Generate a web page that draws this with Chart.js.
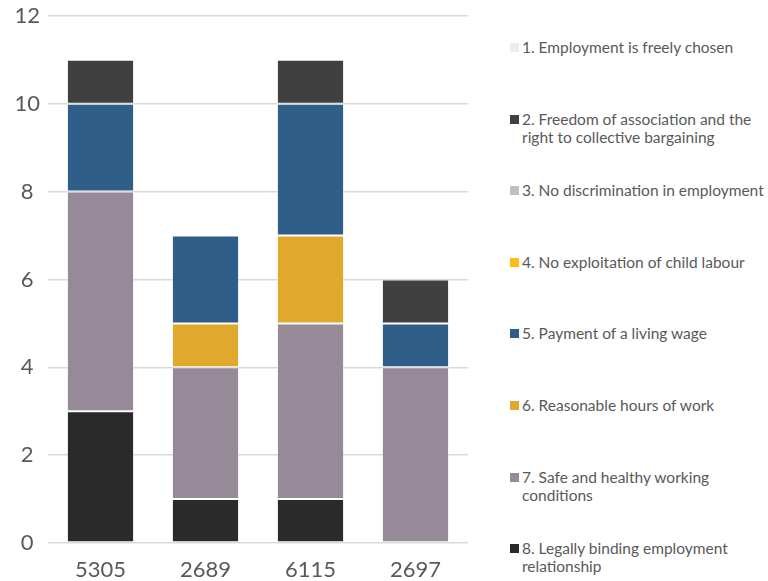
<!DOCTYPE html>
<html>
<head>
<meta charset="utf-8">
<script src="https://cdn.jsdelivr.net/npm/chart.js@4/dist/chart.umd.min.js"></script>
<style>
    body {
        margin: 0;
        background: #ffffff;
        font-family: 'Lato', sans-serif;
    }

    #wrap {
        position: relative;
        width: 768px;
        height: 581px;
        overflow: hidden;
    }

    #chart-box {
        position: absolute;
        left: 0;
        top: 0;
        width: 480px;
        height: 581px;
    }

    #legend {
        position: absolute;
        left: 510px;
        top: 0;
        width: 258px;
        height: 581px;
    }

    .legend-item {
        position: absolute;
        left: 0;
        display: flex;
        align-items: flex-start;
        font-size: 15.5px;
        line-height: 18px;
        color: #595959;
        white-space: nowrap;
    }

    .legend-box {
        width: 9px;
        height: 9px;
        margin-top: 5px;
        margin-right: 3px;
        flex: none;
    }
</style>
</head>
<body>
<div id="wrap">
    <div id="chart-box"><canvas id="principlesChart"></canvas></div>
    <div id="legend"></div>
</div>

<script>
    const categories = ['5305', '2689', '6115', '2697'];

    const principleLabels = [
        ['1. Employment is freely chosen'],
        ['2. Freedom of association and the', 'right to collective bargaining'],
        ['3. No discrimination in employment'],
        ['4. No exploitation of child labour'],
        ['5. Payment of a living wage'],
        ['6. Reasonable hours of work'],
        ['7. Safe and healthy working', 'conditions'],
        ['8. Legally binding employment', 'relationship']
    ];

    // counts per supplier, one array per principle
    const freelyChosen = [0, 0, 0, 0];
    const freedomOfAssociation = [1, 0, 1, 1];
    const noDiscrimination = [0, 0, 0, 0];
    const childLabour = [0, 0, 0, 0];
    const livingWage = [2, 2, 3, 1];
    const hoursOfWork = [0, 1, 2, 0];
    const safeConditions = [5, 3, 4, 4];
    const legallyBinding = [3, 1, 1, 0];

    const yTicks = [0, 2, 4, 6, 8, 10, 12];

    const seriesValues = [freelyChosen, freedomOfAssociation, noDiscrimination, childLabour,
        livingWage, hoursOfWork, safeConditions, legallyBinding];
    const colors = ['#ededed', '#404040', '#bfbfbf', '#fbbd14', '#2f5f89', '#e0a82d', '#968a98', '#2a2a2a'];

    // stack from principle 8 at the bottom up to principle 1
    let datasets = [];
    for (let i = seriesValues.length - 1; i >= 0; i--) {
        datasets.push({
            label: principleLabels[i].join(' '),
            data: seriesValues[i],
            backgroundColor: colors[i],
            borderColor: 'rgba(255, 255, 255, 0.3)',
            borderWidth: ctx => ctx.raw ? 1 : 0,
            borderSkipped: false,
            barPercentage: 0.64,
            categoryPercentage: 1
        });
    }

    const textColor = '#595959';
    const gridColor = '#d9d9d9';

    new Chart(document.getElementById('principlesChart').getContext('2d'), {
        type: 'bar',
        data: {
            labels: categories,
            datasets: datasets
        },
        options: {
            responsive: true,
            maintainAspectRatio: false,
            animation: false,
            layout: {
                padding: {top: 0, right: 12, left: 0, bottom: 0}
            },
            plugins: {
                legend: {display: false},
                tooltip: {enabled: false}
            },
            scales: {
                x: {
                    stacked: true,
                    grid: {display: false},
                    border: {display: false},
                    ticks: {
                        color: textColor,
                        padding: 6,
                        font: {family: 'Lato', size: 22}
                    },
                    afterFit: scale => {
                        scale.height = 38;
                    }
                },
                y: {
                    stacked: true,
                    min: 0,
                    max: 12,
                    afterBuildTicks: scale => {
                        scale.ticks = yTicks.map(v => ({value: v}));
                    },
                    grid: {
                        color: gridColor,
                        lineWidth: 1.5,
                        drawTicks: false
                    },
                    border: {display: false},
                    ticks: {
                        color: textColor,
                        crossAlign: 'center',
                        padding: 8,
                        font: {family: 'Lato', size: 22, lineHeight: 0.72}
                    },
                    afterFit: scale => {
                        scale.width = 48;
                    }
                }
            }
        }
    });

    // legend on the right, principle 1 at the top
    const legendElement = document.getElementById('legend');
    const legendPitch = 71.6;
    principleLabels.forEach((lines, i) => {
        let item = document.createElement('div');
        item.className = 'legend-item';
        item.style.top = (38 + i * legendPitch) + 'px';

        let box = document.createElement('div');
        box.className = 'legend-box';
        box.style.background = colors[i];

        let text = document.createElement('div');
        text.innerHTML = lines.join('<br>');

        item.appendChild(box);
        item.appendChild(text);
        legendElement.appendChild(item);
    });
</script>
</body>
</html>
